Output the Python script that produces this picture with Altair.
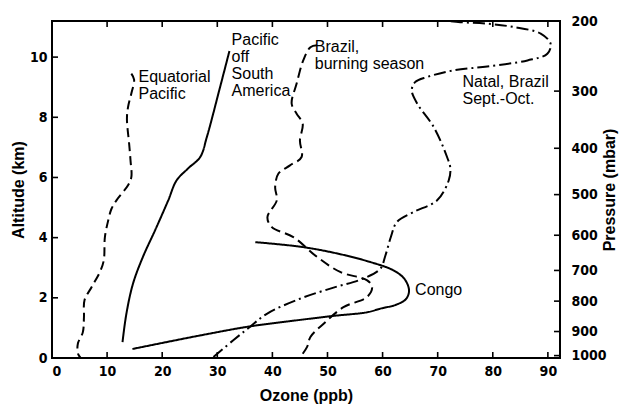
import altair as alt
import pandas as pd

# Ozone profiles: ozone mixing ratio (ppb) against altitude (km), listed along each trace
eq_pacific_o3 = [14.4, 14.9, 14.4, 13.8, 13.6, 14.0, 14.25, 14.4, 13.8, 11.7, 10.8, 10.2, 9.6, 9.4, 8.7, 7.2, 5.9, 5.8, 5.6, 4.7, 4.7, 5.2]
eq_pacific_alt = [9.45, 9.25, 8.79, 8.34, 7.95, 7.12, 6.57, 6.01, 5.74, 5.24, 4.96, 4.57, 4.02, 3.25, 2.86, 2.36, 1.92, 1.36, 0.86, 0.48, 0.15, 0.0]

sa_pacific_o3 = [12.8, 13.5, 14.7, 16.5, 18.7, 21.1, 22.6, 24.7, 26.9, 28.1, 30.5, 32.2]
sa_pacific_alt = [0.53, 1.47, 2.47, 3.36, 4.24, 5.24, 5.9, 6.3, 6.68, 7.34, 9.0, 10.2]

congo_o3 = [36.9, 45.0, 51.1, 57.2, 62.0, 64.0, 64.8, 64.3, 62.6, 59.6, 57.2, 51.1, 43.0, 35.9, 26.9, 14.6]
congo_alt = [3.85, 3.70, 3.50, 3.22, 2.91, 2.62, 2.25, 1.97, 1.78, 1.64, 1.52, 1.40, 1.22, 1.05, 0.75, 0.30]

brazil_o3 = [48.1, 46.9, 45.6, 44.4, 43.5, 44.4, 45.5, 45.0, 45.3, 43.2, 41.1, 40.5, 40.8, 39.1, 39.9, 43.8, 48.1, 52.3, 57.2, 58.1, 57.2, 52.9, 49.3, 46.9, 46.3, 45.3]
brazil_alt = [10.39, 10.33, 9.89, 9.12, 8.45, 8.12, 7.79, 7.23, 6.68, 6.40, 6.13, 5.68, 5.24, 4.68, 4.35, 4.02, 3.36, 2.86, 2.58, 2.36, 2.03, 1.69, 1.14, 0.70, 0.37, 0.09]

natal_o3 = [29.3, 32.9, 35.9, 39.0, 45.0, 51.1, 56.5, 59.6, 60.5, 61.5, 62.6, 65.6, 69.9, 72.0, 72.3, 71.7, 69.3, 66.3, 65.3, 65.9, 68.1, 72.9, 79.0, 86.3, 89.9, 90.5, 88.7, 83.8, 79.0, 74.1, 71.7]
natal_alt = [0.03, 0.59, 1.03, 1.47, 1.97, 2.34, 2.64, 2.97, 3.40, 4.02, 4.52, 4.85, 5.24, 5.90, 6.30, 6.68, 7.67, 8.45, 8.89, 9.17, 9.34, 9.56, 9.69, 9.89, 10.11, 10.44, 10.78, 11.0, 11.11, 11.16, 11.2]

series_names = ["Equatorial Pacific", "Pacific off South America", "Congo", "Brazil, burning season", "Natal, Brazil"]
series_o3 = [eq_pacific_o3, sa_pacific_o3, congo_o3, brazil_o3, natal_o3]
series_alt = [eq_pacific_alt, sa_pacific_alt, congo_alt, brazil_alt, natal_alt]
series_dash = [[9, 5], [1, 0], [1, 0], [10, 5], [12, 4, 2, 4]]

# Curve labels (text, ozone, altitude of first baseline)
label_texts = ["Equatorial\nPacific", "Pacific\noff\nSouth\nAmerica", "Brazil,\nburning season", "Natal, Brazil\nSept.-Oct.", "Congo"]
label_o3 = [15.7, 32.6, 47.7, 74.5, 65.9]
label_alt = [9.17, 10.39, 10.17, 9.0, 2.08]

# Axis ticks
ozone_ticks = [0, 10, 20, 30, 40, 50, 60, 70, 80, 90]
alt_ticks = [0, 2, 4, 6, 8, 10]
pressure_labels = ["200", "300", "400", "500", "600", "700", "800", "900", "1000"]
pressure_alt = [11.2, 8.87, 6.97, 5.43, 4.08, 2.91, 1.89, 0.88, 0.08]

X_DOMAIN = [0, 92.2]
Y_DOMAIN = [0, 11.2]
W, H = 508, 337
LABEL_FONT = "DejaVu Sans Condensed, Liberation Sans Narrow, Liberation Sans, sans-serif"
TITLE_FONT = "Liberation Sans, Arial, sans-serif"

rows = []
for name, xs, ys in zip(series_names, series_o3, series_alt):
    for i, (xv, yv) in enumerate(zip(xs, ys)):
        rows.append({"series": name, "idx": i, "ozone": xv, "alt": yv})
profiles = pd.DataFrame(rows)

xscale = alt.Scale(domain=X_DOMAIN, nice=False, zero=False)
yscale = alt.Scale(domain=Y_DOMAIN, nice=False, zero=False)

lines = alt.Chart(profiles).mark_line(
    color="black", strokeWidth=2, interpolate="catmull-rom"
).encode(
    x=alt.X("ozone:Q", scale=xscale, title="Ozone (ppb)",
            axis=alt.Axis(orient="bottom", values=ozone_ticks, tickSize=0, labelPadding=6,
                          domain=False, grid=False, titlePadding=9)),
    y=alt.Y("alt:Q", scale=yscale, title="Altitude (km)",
            axis=alt.Axis(orient="left", values=alt_ticks, tickSize=0, labelPadding=5,
                          domain=False, grid=False, titlePadding=3)),
    strokeDash=alt.StrokeDash("series:N", scale=alt.Scale(domain=series_names, range=series_dash), legend=None),
    detail="series:N",
    order="idx:Q",
)

labels_df = pd.DataFrame({"text": label_texts, "ozone": label_o3, "alt": label_alt})
labels = alt.Chart(labels_df).mark_text(
    align="left", baseline="alphabetic", lineBreak="\n", lineHeight=17,
    font=TITLE_FONT, fontSize=16, color="black"
).encode(
    x=alt.X("ozone:Q", scale=xscale, axis=None),
    y=alt.Y("alt:Q", scale=yscale, axis=None),
    text="text:N",
)

# Inward tick marks on all four sides of the frame
xt = pd.DataFrame({"ozone": ozone_ticks})
yt = pd.DataFrame({"alt": alt_ticks})
pt = pd.DataFrame({"alt": pressure_alt, "p": pressure_labels})

top_ticks = alt.Chart(xt).mark_rule(color="black", strokeWidth=1.6).encode(
    x=alt.X("ozone:Q", scale=xscale, axis=None), y=alt.value(0), y2=alt.value(6))
bottom_ticks = alt.Chart(xt).mark_rule(color="black", strokeWidth=1.6).encode(
    x=alt.X("ozone:Q", scale=xscale, axis=None), y=alt.value(H), y2=alt.value(H - 6))
left_ticks = alt.Chart(yt).mark_rule(color="black", strokeWidth=1.6).encode(
    y=alt.Y("alt:Q", scale=yscale, axis=None), x=alt.value(0), x2=alt.value(6))

label_expr = "[{}][indexof([{}], datum.value)]".format(
    ",".join("'%s'" % p for p in pressure_labels),
    ",".join(str(a) for a in pressure_alt),
)
right_ticks = alt.Chart(pt).mark_rule(color="black", strokeWidth=1.6).encode(
    y=alt.Y("alt:Q", scale=yscale, title="Pressure (mbar)",
            axis=alt.Axis(orient="right", values=pressure_alt, labelExpr=label_expr,
                          tickSize=0, labelPadding=11, domain=False, grid=False,
                          titleAngle=270, titleBaseline="bottom", titlePadding=11)),
    x=alt.value(W), x2=alt.value(W - 6),
)

chart = alt.layer(
    lines, labels, top_ticks, bottom_ticks, left_ticks, right_ticks
).resolve_axis(
    x="independent", y="independent"
).properties(
    width=W, height=H,
    autosize=alt.AutoSizeParams(type="none"),
    padding={"left": 52, "top": 21, "right": 59, "bottom": 46},
).configure_view(
    stroke="black", strokeWidth=2
).configure_axis(
    labelFont=LABEL_FONT, labelFontSize=14, labelFontWeight="bold", labelColor="black",
    titleFont=TITLE_FONT, titleFontSize=16, titleFontWeight="bold", titleColor="black",
)

chart.save("out.html", embed_options={"renderer": "svg", "actions": False})
